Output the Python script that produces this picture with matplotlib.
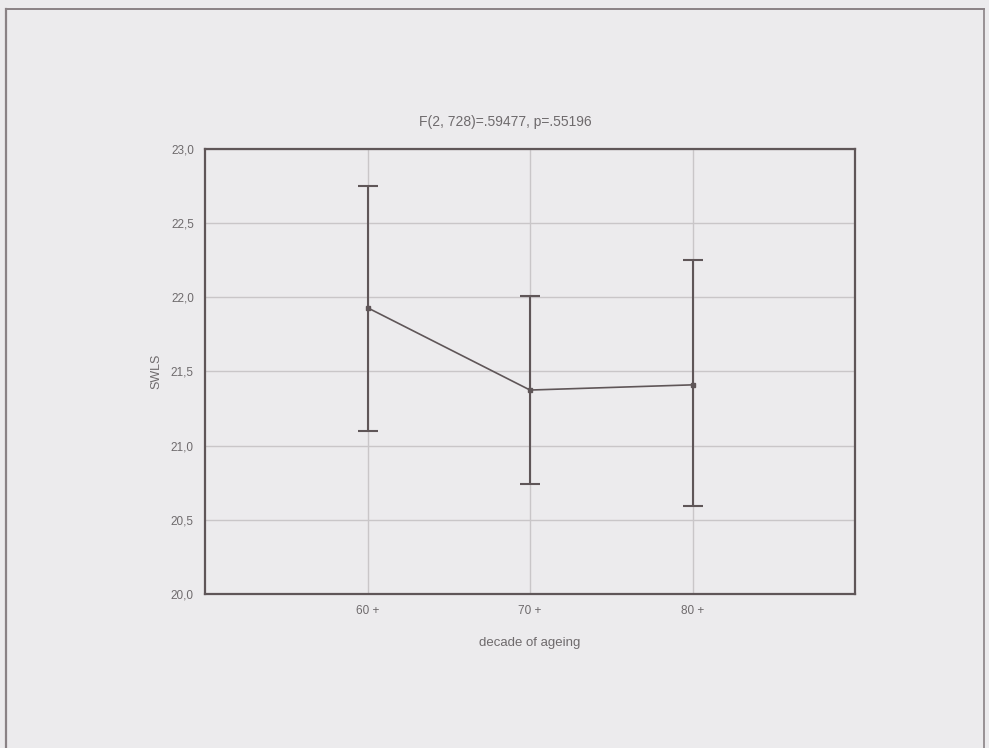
import matplotlib
matplotlib.use("Agg")
import matplotlib.pyplot as plt
from matplotlib.lines import Line2D

# data
groups = ["60 +", "70 +", "80 +"]
means = [21.93, 21.375, 21.41]
upper = [22.75, 22.01, 22.25]
lower = [21.10, 20.74, 20.59]

yticks = [20.0, 20.5, 21.0, 21.5, 22.0, 22.5, 23.0]
ytick_labels = ["20,0", "20,5", "21,0", "21,5", "22,0", "22,5", "23,0"]

title = "F(2, 728)=.59477, p=.55196"

paper = "#ecebed"
ink = "#5f5658"
text_col = "#6e6a6c"

plt.rcParams["font.family"] = ["Liberation Sans", "DejaVu Sans"]

fig = plt.figure(figsize=(9.89, 7.48), dpi=100)
fig.patch.set_facecolor(paper)

# scanned page frame
fig.add_artist(Line2D([0.006, 0.006], [0.0, 0.988], transform=fig.transFigure, color="#8a8285", lw=1.6))
fig.add_artist(Line2D([0.006, 0.995], [0.988, 0.988], transform=fig.transFigure, color="#8a8285", lw=1.4))
fig.add_artist(Line2D([0.995, 0.995], [0.0, 0.988], transform=fig.transFigure, color="#8a8285", lw=1.2))

ax = fig.add_axes([205 / 989, 1 - 594 / 748, 650 / 989, (594 - 149) / 748])
ax.set_facecolor(paper)

x = list(range(1, len(groups) + 1))
err_low = [m - l for m, l in zip(means, lower)]
err_high = [u - m for m, u in zip(means, upper)]

ax.plot(x, means, color=ink, lw=1.2, zorder=3)
ax.errorbar(x, means, yerr=[err_low, err_high], fmt="s", ms=3, color=ink,
            ecolor=ink, elinewidth=1.5, capsize=7, capthick=1.5, zorder=4)

ax.set_xlim(0, 4)
ax.set_ylim(20.0, 23.0)
ax.set_xticks(x)
ax.set_xticklabels(groups)
ax.set_yticks(yticks)
ax.set_yticklabels(ytick_labels)

ax.grid(True, color="#c9c6c8", lw=1.0)
ax.set_axisbelow(True)
ax.tick_params(axis="both", length=0, labelsize=8.5, labelcolor=text_col, pad=8)

for s in ax.spines.values():
    s.set_color(ink)
    s.set_linewidth(1.6)

ax.set_xlabel("decade of ageing", fontsize=9.5, color=text_col, labelpad=14)
ax.set_ylabel("SWLS", fontsize=9, color=text_col, labelpad=6)

fig.text(505 / 989, 1 - 122 / 748, title, ha="center", va="center",
         fontsize=10, color=text_col)

fig.savefig("out.png", dpi=100, facecolor=paper)
